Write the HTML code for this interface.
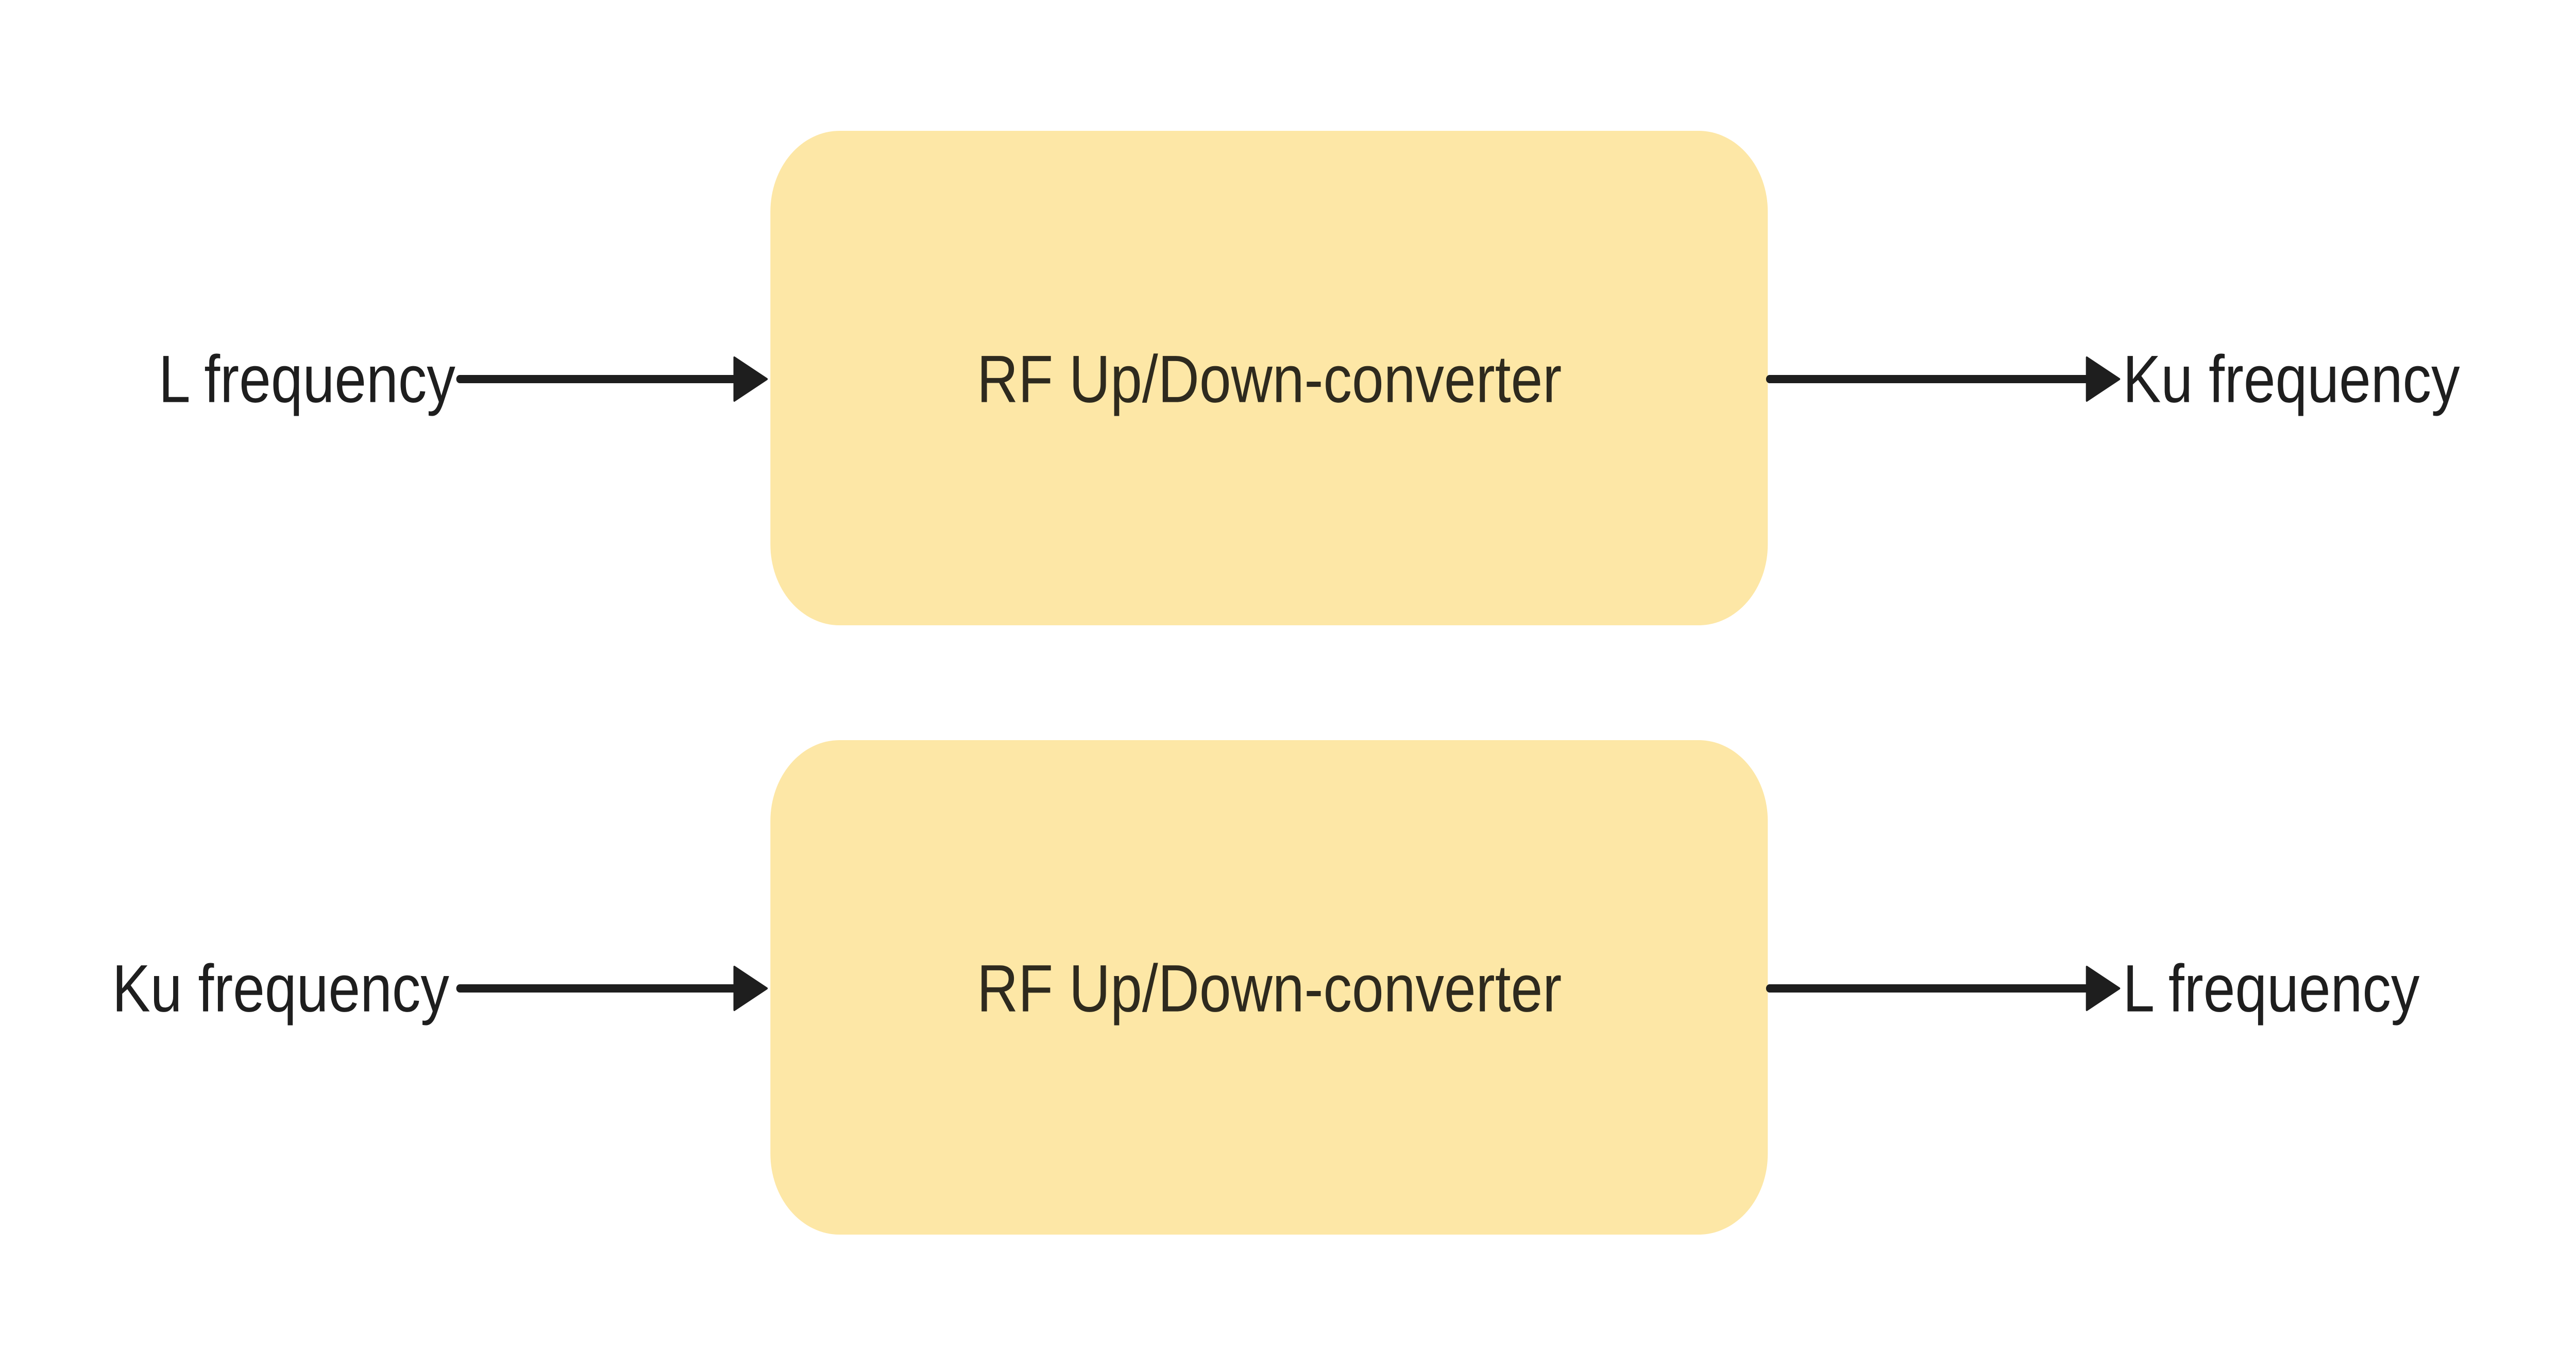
<!DOCTYPE html>
<html><head><meta charset="utf-8"><style>
html,body{margin:0;padding:0;background:#fff;width:100%;height:100%;overflow:hidden;}
svg{display:block;position:absolute;left:0;top:0;width:100%;height:100%;}
</style></head><body>
<svg viewBox="0 0 5855 2656" preserveAspectRatio="none" xmlns="http://www.w3.org/2000/svg">
<rect width="5855" height="2656" fill="#fff"/>
<rect x="1751" y="254" width="2267" height="960" rx="157" fill="#fde7a6"/>
<rect x="1751" y="1437" width="2267" height="960" rx="157" fill="#fde7a6"/>
<g font-family="Liberation Sans, sans-serif" font-size="130" fill="#1e1e1e" dominant-baseline="central">
<text x="1035" y="736" text-anchor="end">L frequency</text>
<text x="1021" y="1919" text-anchor="end">Ku frequency</text>
<text x="2885" y="736" text-anchor="middle" fill="#2e2a1e">RF Up/Down-converter</text>
<text x="2885" y="1919" text-anchor="middle" fill="#2e2a1e">RF Up/Down-converter</text>
<text x="4825" y="736">Ku frequency</text>
<text x="4825" y="1919">L frequency</text>
</g>
<g stroke="#1e1e1e" stroke-width="16" stroke-linecap="round">
<line x1="1045" y1="736" x2="1680" y2="736"/>
<line x1="1045" y1="1919" x2="1680" y2="1919"/>
<line x1="4022" y1="736" x2="4750" y2="736"/>
<line x1="4022" y1="1919" x2="4750" y2="1919"/>
</g>
<g fill="#1e1e1e" stroke="#1e1e1e" stroke-width="4" stroke-linejoin="round">
<polygon points="1669,694 1743,736 1669,778"/>
<polygon points="1669,1877 1743,1919 1669,1961"/>
<polygon points="4743,694 4817,736 4743,778"/>
<polygon points="4743,1877 4817,1919 4743,1961"/>
</g>
</svg>
</body></html>
